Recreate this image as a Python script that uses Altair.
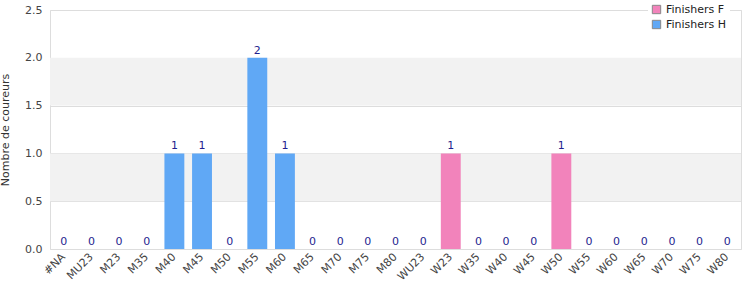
import altair as alt
import pandas as pd

categories = ["#NA", "MU23", "M23", "M35", "M40", "M45", "M50", "M55", "M60", "M65",
              "M70", "M75", "M80", "WU23", "W23", "W35", "W40", "W45", "W50", "W55",
              "W60", "W65", "W70", "W75", "W80"]
finishers_f = [0, 0, 0, 0, 0, 0, 0, 0, 0, 0, 0, 0, 0, 0, 1, 0, 0, 0, 1, 0, 0, 0, 0, 0, 0]
finishers_h = [0, 0, 0, 0, 1, 1, 0, 2, 1, 0, 0, 0, 0, 0, 0, 0, 0, 0, 0, 0, 0, 0, 0, 0, 0]
series_names = ["Finishers F", "Finishers H"]
series_colors = ["#f283bb", "#60a8f5"]
band_lo = [0.5, 1.5]
band_hi = [1.0, 2.0]

FONT = "DejaVu Sans"

rows = []
for c, f, h in zip(categories, finishers_f, finishers_h):
    rows.append({"cat": c, "series": series_names[0], "value": f})
    rows.append({"cat": c, "series": series_names[1], "value": h})
df = pd.DataFrame(rows)
totals = pd.DataFrame({"cat": categories,
                       "total": [f + h for f, h in zip(finishers_f, finishers_h)]})
bands = pd.DataFrame({"lo": band_lo, "hi": band_hi})

yscale = alt.Scale(domain=[0, 2.5], nice=False)
xenc = alt.X("cat:N", sort=categories, scale=alt.Scale(paddingInner=0.28, paddingOuter=0.14),
             axis=alt.Axis(title=None, labelAngle=-45, labelAlign="right", labelBaseline="middle",
                           labelFont=FONT, labelFontSize=11, labelColor="#444",
                           domain=False, ticks=False, labelPadding=6))

band_layer = alt.Chart(bands).mark_rect(color="#f2f2f2").encode(
    y=alt.Y("lo:Q", scale=yscale),
    y2="hi:Q",
    x=alt.value(0),
    x2=alt.value(691),
)

bars = alt.Chart(df).mark_bar().encode(
    x=xenc,
    y=alt.Y("value:Q", stack="zero", scale=yscale,
            axis=alt.Axis(title="Nombre de coureurs", values=[0, 0.5, 1, 1.5, 2, 2.5], format=".1f",
                          titleFont=FONT, titleFontSize=11, titleFontWeight="normal",
                          titleColor="#333", labelFont=FONT, labelFontSize=11, labelColor="#444",
                          grid=True, gridColor="#dddddd", domain=False, ticks=False,
                          labelPadding=8, titlePadding=14)),
    color=alt.Color("series:N", scale=alt.Scale(domain=series_names, range=series_colors),
                    legend=alt.Legend(title=None, orient="none", legendX=598, legendY=-9,
                                      symbolType="square", symbolSize=70,
                                      symbolStrokeColor="#888", symbolStrokeWidth=1,
                                      labelFont=FONT, labelFontSize=11, labelColor="#222",
                                      fillColor="white", padding=3, rowPadding=2)),
    order=alt.Order("series:N"),
)

labels = alt.Chart(totals).mark_text(font=FONT, fontSize=11, color="#1f1f8f",
                                     baseline="bottom", dy=-2).encode(
    x=alt.X("cat:N", sort=categories),
    y=alt.Y("total:Q", scale=yscale),
    text="total:Q",
)

chart = alt.layer(band_layer, bars, labels).properties(
    width=691, height=239,
    autosize=alt.AutoSizeParams(type="none"),
    padding={"left": 50, "top": 10, "right": 9, "bottom": 51},
).configure_view(stroke="#dddddd").configure(background="white")

chart.save("out.html", embed_options={"renderer": "svg", "actions": False})
